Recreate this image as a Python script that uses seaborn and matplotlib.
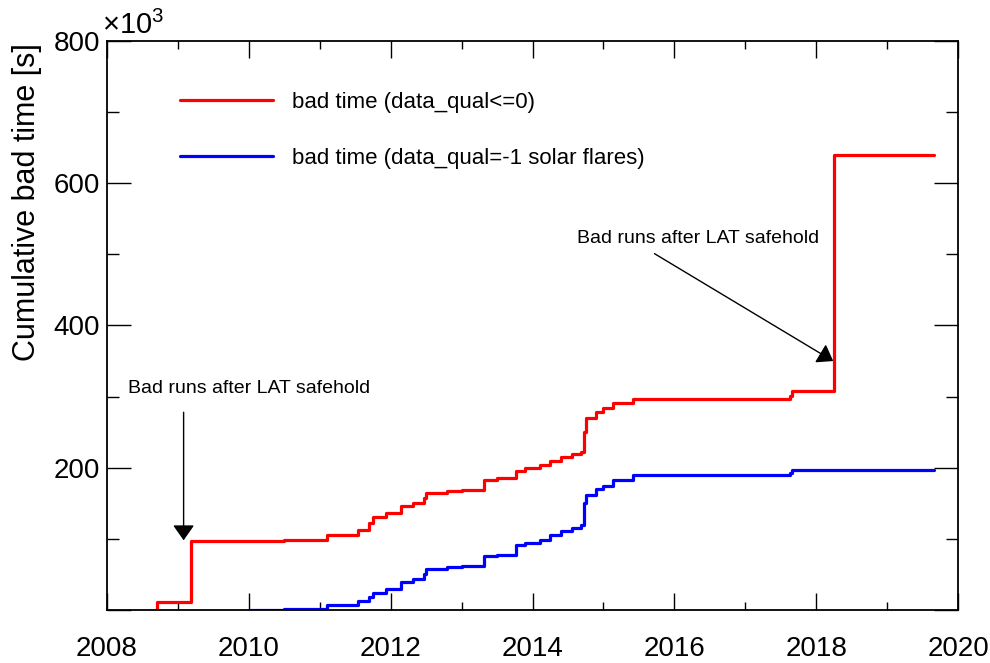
import matplotlib
matplotlib.use("Agg")
import matplotlib.pyplot as plt
import numpy as np
import seaborn as sns

# cumulative bad time, in units of 1e3 s (step curve, value holds from that year on)
red_years = [2008.70, 2008.70, 2009.19, 2010.00, 2010.50, 2011.09, 2011.10, 2011.54,
             2011.70, 2011.75, 2011.94, 2012.15, 2012.31, 2012.47, 2012.50, 2012.80,
             2013.00, 2013.32, 2013.50, 2013.77, 2013.90, 2014.10, 2014.25, 2014.40,
             2014.55, 2014.68, 2014.73, 2014.76, 2014.90, 2015.00, 2015.13, 2015.42,
             2017.63, 2017.66, 2018.25, 2019.66]
red_vals = [0, 11, 97, 97.5, 98, 99, 106, 112,
            122, 131, 137, 146, 151, 158, 165, 167,
            169, 183, 185, 196, 200, 204, 209, 215,
            219, 222, 250, 270, 278, 284, 291, 297,
            301, 308, 639, 639]

blue_years = [2010.01, 2010.50, 2011.09, 2011.10, 2011.54, 2011.70, 2011.75, 2011.94,
              2012.15, 2012.31, 2012.47, 2012.50, 2012.80, 2013.00, 2013.32, 2013.50,
              2013.77, 2013.90, 2014.10, 2014.25, 2014.40, 2014.55, 2014.68, 2014.73,
              2014.76, 2014.90, 2015.00, 2015.13, 2015.42, 2017.63, 2017.66, 2019.66]
blue_vals = [0.5, 1, 2, 7, 12, 18, 24, 29.5,
             40, 43.5, 50, 57, 60, 62, 76, 78,
             91, 94, 99, 106, 111, 115, 119, 150,
             162, 170, 174, 183, 190, 193, 197, 197]

red_label = "bad time (data_qual<=0)"
blue_label = "bad time (data_qual=-1 solar flares)"
note = "Bad runs after LAT safehold"
x_ticks = [2008, 2010, 2012, 2014, 2016, 2018, 2020]
y_ticks = [0, 200, 400, 600, 800]
y_ticklabels = ["", "200", "400", "600", "800"]

sns.set_style("ticks")
plt.rcParams["font.family"] = ["Liberation Sans", "DejaVu Sans"]
plt.rcParams["mathtext.fontset"] = "custom"
plt.rcParams["mathtext.rm"] = "Liberation Sans"
plt.rcParams.update({"text.color": "black", "axes.labelcolor": "black",
                     "xtick.color": "black", "ytick.color": "black"})

fig = plt.figure(figsize=(9.9, 6.63), dpi=100)
ax = fig.add_axes([0.1081, 0.0799, 0.8596, 0.8583])

sns.lineplot(x=red_years, y=red_vals, color="#ff0000", lw=2.3, drawstyle="steps-post",
             estimator=None, sort=False, label=red_label, ax=ax)
sns.lineplot(x=blue_years, y=blue_vals, color="#0000ff", lw=2.3, drawstyle="steps-post",
             estimator=None, sort=False, label=blue_label, ax=ax)

ax.set_xlim(2008, 2020)
ax.set_ylim(0, 800)
ax.set_xticks(x_ticks)
ax.set_xticklabels([str(t) for t in x_ticks])
ax.set_xticks(np.arange(2009, 2020, 2), minor=True)
ax.set_yticks(y_ticks)
ax.set_yticklabels(y_ticklabels)
ax.set_yticks([100, 300, 500, 700], minor=True)
ax.set_xlabel("")
ax.set_ylabel("")

ax.tick_params(axis="both", which="both", direction="in", top=True, right=True,
               color="black", labelcolor="black", width=1.0, labelsize=20)
ax.tick_params(axis="x", which="major", length=12, pad=19)
ax.tick_params(axis="x", which="minor", length=5.5)
ax.tick_params(axis="y", which="major", length=17, pad=5)
ax.tick_params(axis="y", which="minor", length=8.5)
for s in ax.spines.values():
    s.set_color("black")
    s.set_linewidth(1.3)

fig.text(0.012, 1 - 43 / 663, "Cumulative bad time [s]", rotation=90,
         ha="left", va="top", fontsize=22)
fig.text(0.103, 1 - 34 / 663, r"$\times10^{3}$", ha="left", va="baseline", fontsize=21)

ax.legend(loc="upper left", bbox_to_anchor=(0.0858, 0.911), frameon=False,
          fontsize=16, handlelength=4.2, handletextpad=0.85, labelspacing=1.6,
          borderpad=0, borderaxespad=0)

arrow = dict(arrowstyle="-|>,head_length=0.47,head_width=0.33", mutation_scale=20,
             color="black", lw=1.0, shrinkA=0, shrinkB=0)
ax.text(2010.01, 312, note, ha="center", va="center", fontsize=14)
ax.annotate("", xy=(2009.08, 98), xytext=(2009.08, 278), arrowprops=arrow)
ax.text(2016.34, 523, note, ha="center", va="center", fontsize=14)
ax.annotate("", xy=(2018.24, 350), xytext=(2015.72, 501), arrowprops=arrow)

fig.savefig("out.png", dpi=100, facecolor="white")
